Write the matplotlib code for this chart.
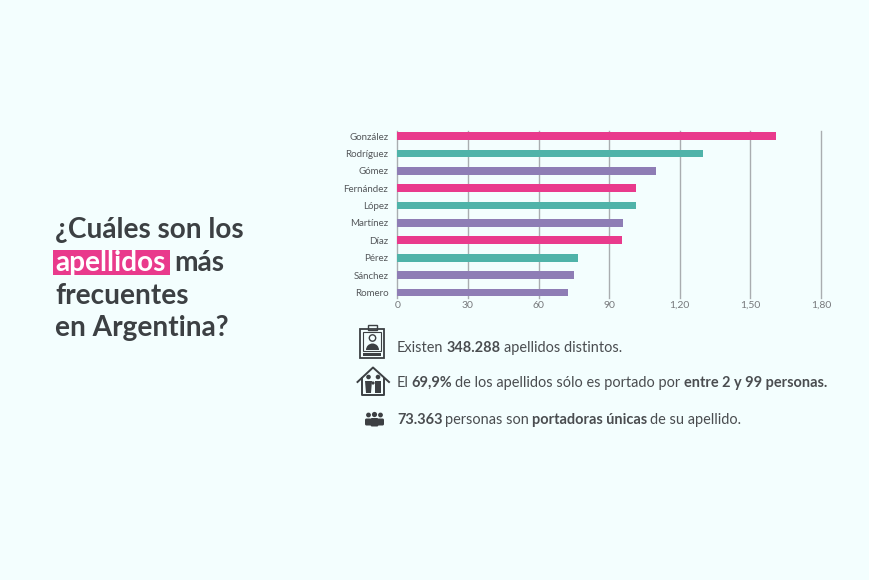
import matplotlib
matplotlib.use('Agg')
import matplotlib.pyplot as plt
from matplotlib.patches import Rectangle, Circle, Polygon, FancyBboxPatch, Wedge

plt.rcParams['font.family'] = ['Lato', 'DejaVu Sans']

apellidos = ['González', 'Rodríguez', 'Gómez', 'Fernández', 'López',
             'Martínez', 'Díaz', 'Pérez', 'Sánchez', 'Romero']
valores = [161, 129.7, 110, 101.4, 101.3, 96, 95.3, 76.9, 75, 72.6]
ticks = [0, 30, 60, 90, 120, 150, 180]
tick_labels = ['0', '30', '60', '90', '1,20', '1,50', '1,80']

fondo = '#f3fefe'
rosa = '#e93a8c'
verde = '#4fb3a9'
lila = '#8e7db5'
oscuro = '#3c4043'
colores = [rosa, verde, lila, rosa, verde, lila, rosa, verde, lila, lila]

fig = plt.figure(figsize=(8.7, 5.8), dpi=100, facecolor=fondo)

# grafico de barras
ax = fig.add_axes([397.3 / 870, 1 - 298 / 580, (821 - 397.3) / 870, 167 / 580])
ax.set_facecolor('none')
ax.barh(range(len(apellidos)), valores, height=0.44, color=colores, zorder=3)
ax.set_xlim(0, 180)
ax.set_ylim(9.32, -0.29)
ax.set_xticks(ticks)
ax.set_xticklabels(tick_labels, fontsize=7.5, color='#77797c')
ax.set_yticks(range(len(apellidos)))
ax.set_yticklabels(apellidos, fontsize=7, color='#55585b')
ax.tick_params(length=0)
ax.tick_params(axis='y', pad=6.5)
ax.tick_params(axis='x', pad=2)
ax.grid(axis='x', color='#a9adb0', lw=1, zorder=1, clip_on=False)
for s in ax.spines.values():
    s.set_visible(False)

# capa en pixeles para titulo, textos e iconos
cap = fig.add_axes([0, 0, 1, 1])
cap.set_xlim(0, 870)
cap.set_ylim(580, 0)
cap.axis('off')
cap.patch.set_alpha(0)

cap.add_patch(Rectangle((53, 249.5), 117, 25.5, color=rosa, lw=0))
cap.text(55, 238, '¿Cuáles son los', fontsize=20.2, weight='bold', color=oscuro, va='baseline')
cap.text(55, 271, 'apellidos', fontsize=20.2, weight='bold', color='white', va='baseline')
cap.text(174, 271, 'más', fontsize=20.2, weight='bold', color=oscuro, va='baseline')
cap.text(55, 304, 'frecuentes', fontsize=20.2, weight='bold', color=oscuro, va='baseline')
cap.text(55, 336, 'en Argentina?', fontsize=20.2, weight='bold', color=oscuro, va='baseline')


def linea(x, y, partes, gap=3):
    r = fig.canvas.get_renderer()
    for txt, negrita in partes:
        t = cap.text(x, y, txt, fontsize=10.45, color='#4a4d50', va='baseline',
                     weight='bold' if negrita else 'normal')
        x = t.get_window_extent(r).x1 + gap


linea(397, 352, [('Existen', False), ('348.288', True), ('apellidos distintos.', False)])
linea(397, 387, [('El', False), ('69,9%', True), ('de los apellidos sólo es portado por', False),
                 ('entre 2 y 99 personas.', True)])
linea(397, 424, [('73.363', True), ('personas son', False), ('portadoras únicas', True),
                 ('de su apellido.', False)])

# icono credencial
cap.add_patch(Rectangle((360.5, 329), 24, 29, fc='none', ec=oscuro, lw=1.3))
cap.add_patch(Rectangle((363.5, 332), 18, 19, fc='none', ec=oscuro, lw=0.8))
cap.add_patch(Rectangle((368, 324.5), 9, 5, fc='none', ec=oscuro, lw=1))
cap.add_patch(Circle((372.5, 338), 3.2, fc='none', ec=oscuro, lw=1))
cap.add_patch(Wedge((372.5, 350), 6.5, 180, 360, fc=oscuro, lw=0))
cap.add_patch(Rectangle((363.5, 353), 18, 3, fc=oscuro, lw=0))

# icono casa
cap.plot([357.5, 373, 389], [382, 367.5, 382], color=oscuro, lw=1.4)
cap.plot([362, 362, 384, 384], [378, 395, 395, 378], color=oscuro, lw=1.4)
for px, py, r in [(368.5, 377, 2.3), (378, 377, 2.3), (373, 383, 1.6)]:
    cap.add_patch(Circle((px, py), r, fc=oscuro, lw=0))
cap.add_patch(Polygon([(365, 381), (372, 381), (371, 393), (366, 393)], fc=oscuro, lw=0))
cap.add_patch(Polygon([(375, 381), (381, 381), (381, 393), (375, 393)], fc=oscuro, lw=0))

# icono personas
for px, py, r in [(368.5, 415, 2.4), (374.5, 414.5, 2.6), (380.5, 415, 2.4)]:
    cap.add_patch(Circle((px, py), r, fc=oscuro, lw=0))
for px, w, top in [(365, 6.5, 418.5), (377.5, 6.5, 418.5), (370.5, 8, 418)]:
    cap.add_patch(FancyBboxPatch((px, top), w, 8.5 if w > 7 else 7,
                                 boxstyle='round,pad=0,rounding_size=1.5', fc=oscuro, lw=0))

fig.savefig('out.png', dpi=100, facecolor=fondo)
